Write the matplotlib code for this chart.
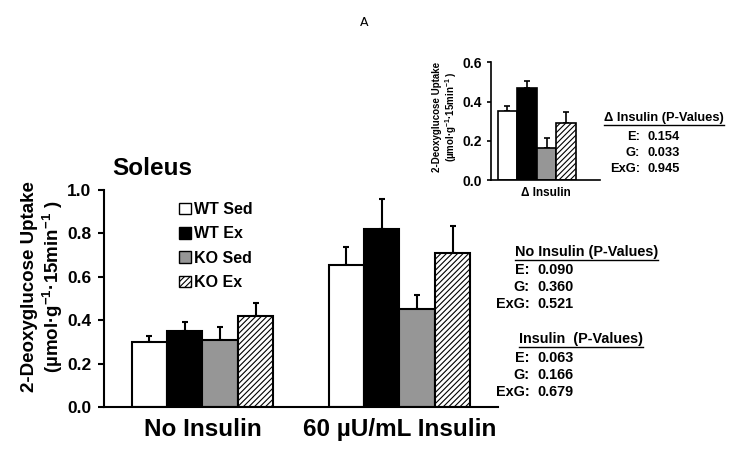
import numpy as np
import matplotlib
matplotlib.use("Agg")
import matplotlib.pyplot as plt
from matplotlib.patches import Patch
from matplotlib.lines import Line2D

plt.rcParams['font.family'] = ['Liberation Sans', 'DejaVu Sans']
plt.rcParams['font.weight'] = 'bold'
plt.rcParams['axes.labelweight'] = 'bold'
plt.rcParams['mathtext.fontset'] = 'custom'
plt.rcParams['mathtext.rm'] = 'Liberation Sans:bold'
plt.rcParams['mathtext.bf'] = 'Liberation Sans:bold'
plt.rcParams['hatch.linewidth'] = 0.8

# data
groups = ["WT Sed", "WT Ex", "KO Sed", "KO Ex"]
conditions = ["No Insulin", "60 \u00b5U/mL Insulin"]
means = {
    "WT Sed": [0.30, 0.654],
    "WT Ex": [0.35, 0.82],
    "KO Sed": [0.31, 0.45],
    "KO Ex": [0.42, 0.708],
}
sems = {
    "WT Sed": [0.025, 0.085],
    "WT Ex": [0.04, 0.138],
    "KO Sed": [0.057, 0.066],
    "KO Ex": [0.057, 0.126],
}
delta_means = [0.354, 0.471, 0.162, 0.292]
delta_sems = [0.024, 0.036, 0.054, 0.055]

pv_labels = ["E:", "G:", "ExG:"]
pv_noins = ["0.090", "0.360", "0.521"]
pv_ins = ["0.063", "0.166", "0.679"]
pv_delta = ["0.154", "0.033", "0.945"]

faces = ["white", "black", "#969696", "white"]
hatches = [None, None, None, "//////"]

fig = plt.figure(figsize=(7.29, 4.5), dpi=100)
fig.text(0.5, 0.95, "A", ha="center", va="center", fontsize=9, fontweight="normal",
         family="DejaVu Sans")

# main chart
ax = fig.add_axes([0.1427, 0.0956, 0.5403, 0.4822])
w = 0.18
x = np.arange(len(conditions))
for i, g in enumerate(groups):
    pos = x + (i - 1.5) * w
    ax.bar(pos, means[g], w, color=faces[i], edgecolor="black", linewidth=1.5,
           hatch=hatches[i], label=g, zorder=2)
    ax.errorbar(pos, means[g], yerr=[np.zeros(2), sems[g]], fmt="none",
                ecolor="black", elinewidth=1.5, capsize=2, capthick=1.5, zorder=1)
ax.set_xlim(-0.5, 1.5)
ax.set_ylim(0, 1.0)
ax.set_yticks(np.arange(0, 1.01, 0.2))
ax.set_yticklabels(["%.1f" % v for v in np.arange(0, 1.01, 0.2)], fontsize=12.5)
ax.set_xticks(x)
ax.set_xticklabels(conditions, fontsize=17.5)
ax.tick_params(axis="x", length=0, pad=8)
ax.tick_params(axis="y", length=4, width=1.5, direction="out", pad=5)
for s in ["top", "right"]:
    ax.spines[s].set_visible(False)
for s in ["left", "bottom"]:
    ax.spines[s].set_linewidth(1.5)
ax.set_ylabel("2-Deoxyglucose Uptake\n(\u00b5mol\u00b7g$^{-1}$\u00b715min$^{-1}$ )",
              fontsize=13.5, linespacing=1.1)
ax.yaxis.set_label_coords(-0.10, 0.553)
ax.text(0.02, 1.10, "Soleus", transform=ax.transAxes, fontsize=17.5, va="center")

handles = [Patch(facecolor=faces[i], edgecolor="black", hatch=hatches[i], linewidth=1)
           for i in range(4)]
ax.legend(handles, groups, loc="upper left", bbox_to_anchor=(0.155, 1.01), frameon=False,
          fontsize=11.5, handlelength=0.75, handleheight=0.75, handletextpad=0.15,
          labelspacing=0.58)

# inset
ins = fig.add_axes([0.6735, 0.6, 0.1495, 0.2616])
xi = (np.arange(4) - 1.5) * w
for i in range(4):
    ins.bar(xi[i], delta_means[i], w, color=faces[i], edgecolor="black", linewidth=1.2,
            hatch=hatches[i], zorder=2)
ins.errorbar(xi, delta_means, yerr=[np.zeros(4), delta_sems], fmt="none", ecolor="black",
             elinewidth=1.2, capsize=2, capthick=1.2, zorder=1)
ins.set_xlim(-0.42, 0.58)
ins.set_ylim(0, 0.6)
ins.set_yticks([0, 0.2, 0.4, 0.6])
ins.set_yticklabels(["0.0", "0.2", "0.4", "0.6"], fontsize=10)
ins.set_xticks([])
ins.set_xlabel("\u0394 Insulin", fontsize=8.5, labelpad=5)
ins.set_ylabel("2-Deoxyglucose Uptake\n(\u00b5mol\u00b7g$^{-1}$\u00b715min$^{-1}$ )",
               fontsize=7, linespacing=1.1)
ins.yaxis.set_label_coords(-0.29, 0.535)
ins.tick_params(axis="y", length=3, width=1.2)
for s in ["top", "right"]:
    ins.spines[s].set_visible(False)
for s in ["left", "bottom"]:
    ins.spines[s].set_linewidth(1.2)

# p-value blocks (pixel positions)
W, H = 729, 450
def block(title, vals, title_x, title_y, colon_x, val_x, row_y, dy, fs):
    t = fig.text(title_x / W, 1 - title_y / H, title, fontsize=fs, ha="left", va="center")
    titles.append(t)
    for k, (lab, v) in enumerate(zip(pv_labels, vals)):
        y = 1 - (row_y + k * dy) / H
        fig.text(colon_x / W, y, lab, fontsize=fs, ha="right", va="center")
        fig.text(val_x / W, y, v, fontsize=fs, ha="left", va="center")

titles = []
block("\u0394 Insulin (P-Values)", pv_delta, 604, 118, 640, 647, 137, 16, 9.3)
block("No Insulin (P-Values)", pv_noins, 515, 252, 530, 537, 270, 17, 10.4)
block("Insulin  (P-Values)", pv_ins, 519, 339, 530, 537, 358, 17, 10.4)

fig.canvas.draw()
r = fig.canvas.get_renderer()
for t in titles:
    bb = t.get_window_extent(r).transformed(fig.transFigure.inverted())
    yl = bb.y0 - 0.002
    fig.add_artist(Line2D([bb.x0, bb.x1], [yl, yl], color="black", linewidth=1,
                          transform=fig.transFigure))

fig.savefig("out.png", dpi=100)
